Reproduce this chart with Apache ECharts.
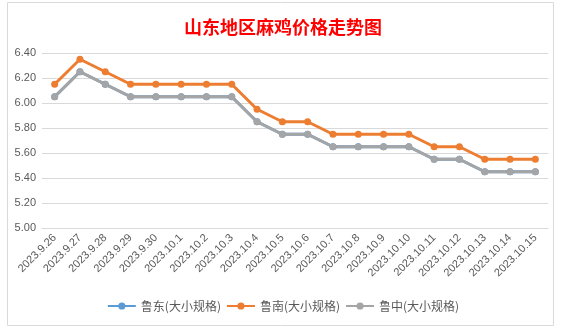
<!DOCTYPE html>
<html><head><meta charset="utf-8">
<script src="https://cdn.jsdelivr.net/npm/echarts@6/dist/echarts.min.js"></script>
<style>html,body{margin:0;padding:0;background:#fff;}#c{width:566px;height:329px;}</style>
</head><body><div id="c"></div>
<script>
const categories = ['2023.9.26','2023.9.27','2023.9.28','2023.9.29','2023.9.30','2023.10.1','2023.10.2','2023.10.3','2023.10.4','2023.10.5','2023.10.6','2023.10.7','2023.10.8','2023.10.9','2023.10.10','2023.10.11','2023.10.12','2023.10.13','2023.10.14','2023.10.15'];
const ludong = [6.05,6.25,6.15,6.05,6.05,6.05,6.05,6.05,5.85,5.75,5.75,5.65,5.65,5.65,5.65,5.55,5.55,5.45,5.45,5.45];
const lunan = [6.15,6.35,6.25,6.15,6.15,6.15,6.15,6.15,5.95,5.85,5.85,5.75,5.75,5.75,5.75,5.65,5.65,5.55,5.55,5.55];
const luzhong = [6.05,6.25,6.15,6.05,6.05,6.05,6.05,6.05,5.85,5.75,5.75,5.65,5.65,5.65,5.65,5.55,5.55,5.45,5.45,5.45];
const names = ['鲁东(大小规格)','鲁南(大小规格)','鲁中(大小规格)'];
const colors = ['#5B9BD5','#ED7D31','#A5A5A5'];
const chart = echarts.init(document.getElementById('c'));
const mk = (n,d,c)=>({name:n,type:'line',data:d,symbol:'circle',symbolSize:7,
  lineStyle:{width:3,color:c},itemStyle:{color:c},emphasis:{disabled:true}});
chart.setOption({
  animation:false,
  color:colors,
  title:{text:'山东地区麻鸡价格走势图',left:'center',top:13,
    textStyle:{color:'#FF0000',fontSize:18,fontWeight:'bold',fontFamily:'Noto Sans CJK SC'}},
  graphic:[{type:'rect',shape:{x:7.5,y:2.5,width:546,height:323},style:{fill:'none',stroke:'#D9D9D9',lineWidth:1},z:-1}],
  legend:{bottom:12,left:'center',itemWidth:28,itemHeight:9,itemGap:5,
    textStyle:{color:'#595959',fontSize:12,fontFamily:'Noto Sans CJK SC'},
    data:names},
  grid:{left:42,right:18,top:53,bottom:101},
  xAxis:{type:'category',data:categories,boundaryGap:true,
    axisLine:{lineStyle:{color:'#D9D9D9'}},axisTick:{show:false},
    axisLabel:{rotate:45,color:'#595959',fontSize:11,interval:0,margin:8,fontFamily:'Liberation Sans'}},
  yAxis:{type:'value',min:5.0,max:6.4,interval:0.2,
    axisLine:{show:false},axisTick:{show:false},
    splitLine:{lineStyle:{color:'#D9D9D9'}},
    axisLabel:{formatter:v=>v.toFixed(2),color:'#595959',fontSize:11,margin:6,fontFamily:'Liberation Sans'}},
  series:[mk(names[0],ludong,colors[0]),mk(names[1],lunan,colors[1]),mk(names[2],luzhong,colors[2])]
});
</script></body></html>
